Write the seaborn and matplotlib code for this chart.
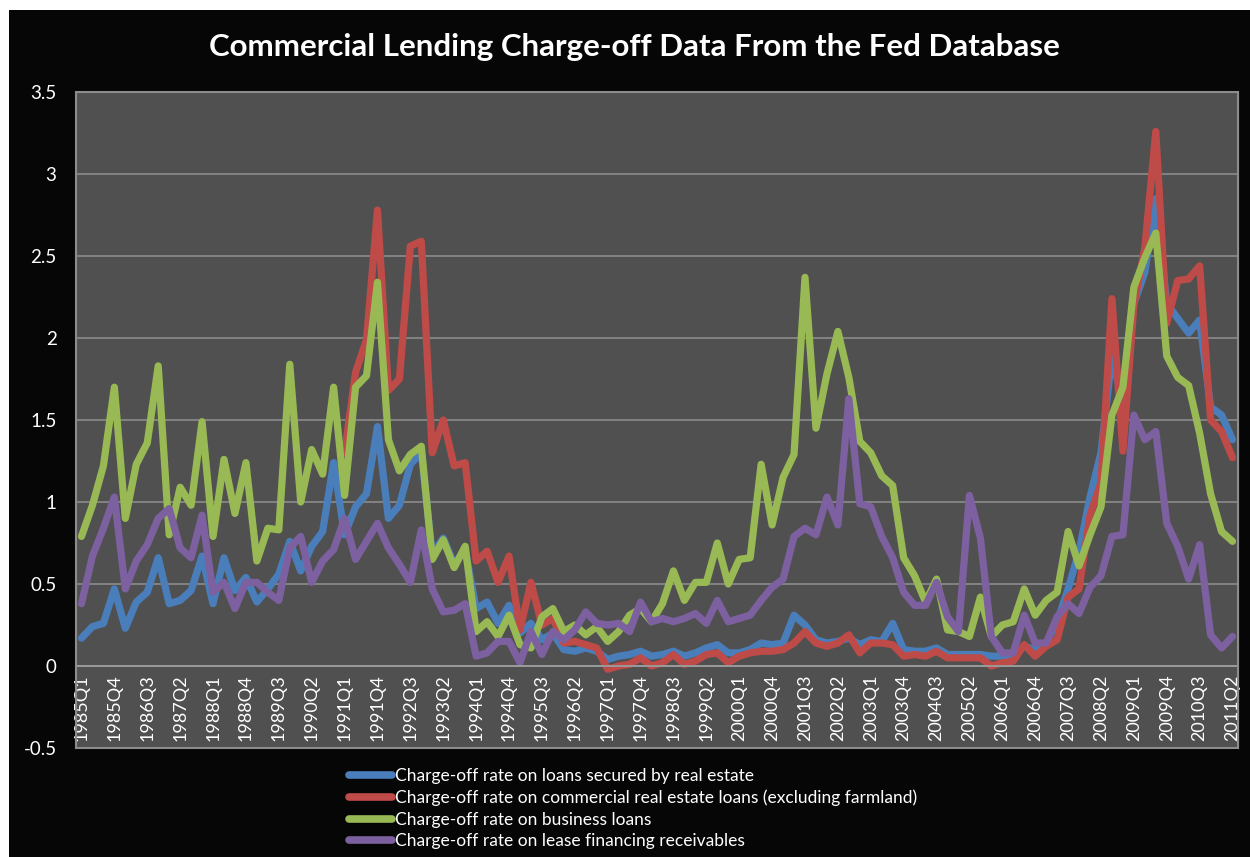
import numpy as np
import pandas as pd
import matplotlib
matplotlib.use('Agg')
import matplotlib.pyplot as plt
import seaborn as sns
from matplotlib.patches import Rectangle

# quarter labels 1985Q1 .. 2011Q2
quarters = [f"{y}Q{q}" for y in range(1985, 2012) for q in range(1, 5)][:106]

# Charge-off rate on loans secured by real estate
real_estate = [0.17, 0.24, 0.26, 0.47, 0.23, 0.39, 0.45, 0.66, 0.38, 0.40,
               0.46, 0.67, 0.38, 0.66, 0.46, 0.54, 0.39, 0.47, 0.56, 0.76,
               0.58, 0.73, 0.82, 1.24, 0.80, 0.97, 1.05, 1.46, 0.90, 0.98,
               1.23, 1.30, 0.68, 0.78, 0.62, 0.71, 0.35, 0.39, 0.26, 0.37,
               0.20, 0.26, 0.16, 0.20, 0.10, 0.09, 0.11, 0.09, 0.04, 0.06,
               0.07, 0.09, 0.06, 0.07, 0.09, 0.06, 0.08, 0.11, 0.13, 0.08,
               0.08, 0.10, 0.14, 0.13, 0.14, 0.31, 0.25, 0.16, 0.14, 0.15,
               0.17, 0.13, 0.16, 0.15, 0.26, 0.10, 0.09, 0.09, 0.11, 0.07,
               0.07, 0.07, 0.07, 0.06, 0.06, 0.07, 0.12, 0.10, 0.14, 0.27,
               0.47, 0.70, 1.03, 1.30, 1.89, 1.60, 2.21, 2.40, 2.85, 2.21,
               2.12, 2.03, 2.11, 1.58, 1.53, 1.38]

# Charge-off rate on commercial real estate loans (excluding farmland), starts 1991Q1
commercial_re = [np.nan] * 24 + [
               1.30, 1.79, 1.99, 2.78, 1.68, 1.75,
               2.56, 2.59, 1.30, 1.50, 1.22, 1.24, 0.64, 0.70, 0.51, 0.67,
               0.22, 0.51, 0.25, 0.29, 0.14, 0.15, 0.13, 0.11, -0.02, 0.00,
               0.01, 0.05, 0.00, 0.02, 0.07, 0.01, 0.03, 0.07, 0.08, 0.02,
               0.06, 0.08, 0.09, 0.09, 0.10, 0.14, 0.21, 0.14, 0.12, 0.14,
               0.19, 0.08, 0.14, 0.14, 0.13, 0.06, 0.07, 0.06, 0.09, 0.05,
               0.05, 0.05, 0.05, 0.00, 0.02, 0.03, 0.13, 0.06, 0.12, 0.16,
               0.42, 0.47, 0.92, 1.12, 2.24, 1.31, 2.20, 2.55, 3.26, 2.09,
               2.35, 2.36, 2.44, 1.50, 1.43, 1.27]

# Charge-off rate on business loans
business = [0.79, 0.98, 1.22, 1.70, 0.90, 1.23, 1.36, 1.83, 0.80, 1.09,
            0.98, 1.49, 0.79, 1.26, 0.93, 1.24, 0.64, 0.84, 0.83, 1.84,
            1.00, 1.32, 1.17, 1.70, 1.04, 1.70, 1.77, 2.34, 1.38, 1.19,
            1.29, 1.34, 0.65, 0.77, 0.60, 0.73, 0.21, 0.27, 0.18, 0.31,
            0.13, 0.11, 0.30, 0.35, 0.21, 0.25, 0.19, 0.24, 0.15, 0.21,
            0.31, 0.35, 0.27, 0.38, 0.58, 0.40, 0.51, 0.51, 0.75, 0.50,
            0.65, 0.66, 1.23, 0.86, 1.15, 1.29, 2.37, 1.45, 1.78, 2.04,
            1.76, 1.37, 1.30, 1.16, 1.10, 0.66, 0.55, 0.39, 0.53, 0.22,
            0.21, 0.18, 0.42, 0.18, 0.25, 0.27, 0.47, 0.31, 0.40, 0.45,
            0.82, 0.61, 0.80, 0.97, 1.53, 1.70, 2.31, 2.49, 2.64, 1.89,
            1.76, 1.71, 1.42, 1.05, 0.82, 0.76]

# Charge-off rate on lease financing receivables
lease = [0.38, 0.67, 0.84, 1.03, 0.47, 0.64, 0.74, 0.90, 0.96, 0.72,
         0.66, 0.92, 0.45, 0.51, 0.35, 0.51, 0.51, 0.45, 0.40, 0.72,
         0.79, 0.51, 0.64, 0.71, 0.90, 0.65, 0.76, 0.87, 0.72, 0.62,
         0.51, 0.83, 0.47, 0.33, 0.34, 0.38, 0.06, 0.08, 0.15, 0.15,
         0.02, 0.21, 0.07, 0.21, 0.16, 0.22, 0.33, 0.26, 0.25, 0.26,
         0.21, 0.39, 0.27, 0.29, 0.27, 0.29, 0.32, 0.26, 0.40, 0.27,
         0.29, 0.31, 0.40, 0.48, 0.53, 0.79, 0.84, 0.80, 1.03, 0.86,
         1.63, 0.99, 0.97, 0.79, 0.66, 0.45, 0.37, 0.37, 0.51, 0.30,
         0.21, 1.04, 0.78, 0.18, 0.08, 0.08, 0.31, 0.14, 0.14, 0.30,
         0.38, 0.32, 0.48, 0.55, 0.79, 0.80, 1.53, 1.38, 1.43, 0.87,
         0.73, 0.53, 0.74, 0.19, 0.11, 0.18]

series_names = ["Charge-off rate on loans secured by real estate",
                "Charge-off rate on commercial real estate loans (excluding farmland)",
                "Charge-off rate on business loans",
                "Charge-off rate on lease financing receivables"]
series_values = [real_estate, commercial_re, business, lease]
colors = ["#4a7ebb", "#be4b48", "#98b954", "#7d60a0"]

sns.set_style("white")
plt.rcParams['font.family'] = ['Lato', 'DejaVu Sans']

fig = plt.figure(figsize=(12.5, 8.57), dpi=100, facecolor='white')
# black chart background with a thin white margin top/left
fig.patches.append(Rectangle((9 / 1250, 0), 1 - 9 / 1250, 1 - 10 / 857,
                             transform=fig.transFigure, facecolor='#060606',
                             edgecolor='none', zorder=-10))

ax = fig.add_axes([76 / 1250, 1 - 748 / 857, (1238 - 76) / 1250, (748 - 92) / 857])
ax.set_facecolor('#505050')

x = np.arange(len(quarters))
for name, vals, col in zip(series_names, series_values, colors):
    sns.lineplot(x=x, y=vals, ax=ax, color=col, linewidth=5.2, label=name,
                 solid_joinstyle='round', solid_capstyle='round')

ax.set_xlim(-0.5, len(quarters) - 0.5)
ax.set_ylim(-0.5, 3.5)

# category axis crosses at 0, labels sit in the band below it
ax.spines['bottom'].set_position(('data', 0))
ax.spines['bottom'].set_color('#9a9a9a')
ax.spines['bottom'].set_linewidth(1.4)
for s in ['left', 'right', 'top']:
    ax.spines[s].set_color('#8c8c8c')
ax.add_patch(Rectangle((0, 0), 1, 1, transform=ax.transAxes, fill=False,
                       edgecolor='#8c8c8c', linewidth=1.5, clip_on=False, zorder=5))

yt = np.arange(-0.5, 3.51, 0.5)
ax.set_yticks(yt)
ax.set_yticklabels([f"{v:g}" for v in yt])
ax.tick_params(axis='y', length=0, pad=14, labelcolor='white', labelsize=13.5)
ax.yaxis.grid(True, color='#8c8c8c', linewidth=1.2)
ax.set_axisbelow(True)

ax.set_xticks(x[::3])
ax.set_xticklabels(quarters[::3])
ax.tick_params(axis='x', length=0, pad=6, labelrotation=90,
               labelcolor='white', labelsize=13)
ax.set_xlabel('')
ax.set_ylabel('')

ax.legend_.remove()
handles, labels = ax.get_legend_handles_labels()
leg = fig.legend(handles, labels, loc='upper left',
                 bbox_to_anchor=(342 / 1250, 1 - 761 / 857), frameon=False,
                 fontsize=12.5, handlelength=2.5, handletextpad=0.15,
                 labelspacing=0.32, borderaxespad=0)
for t in leg.get_texts():
    t.set_color('white')
for h in leg.legend_handles:
    h.set_linewidth(5.5)

fig.text(634 / 1250, 1 - 47 / 857, "Commercial Lending Charge-off Data From the Fed Database",
         color='white', fontsize=22.5, fontweight='bold', ha='center', va='center')

fig.savefig('out.png', dpi=100, facecolor=fig.get_facecolor())
